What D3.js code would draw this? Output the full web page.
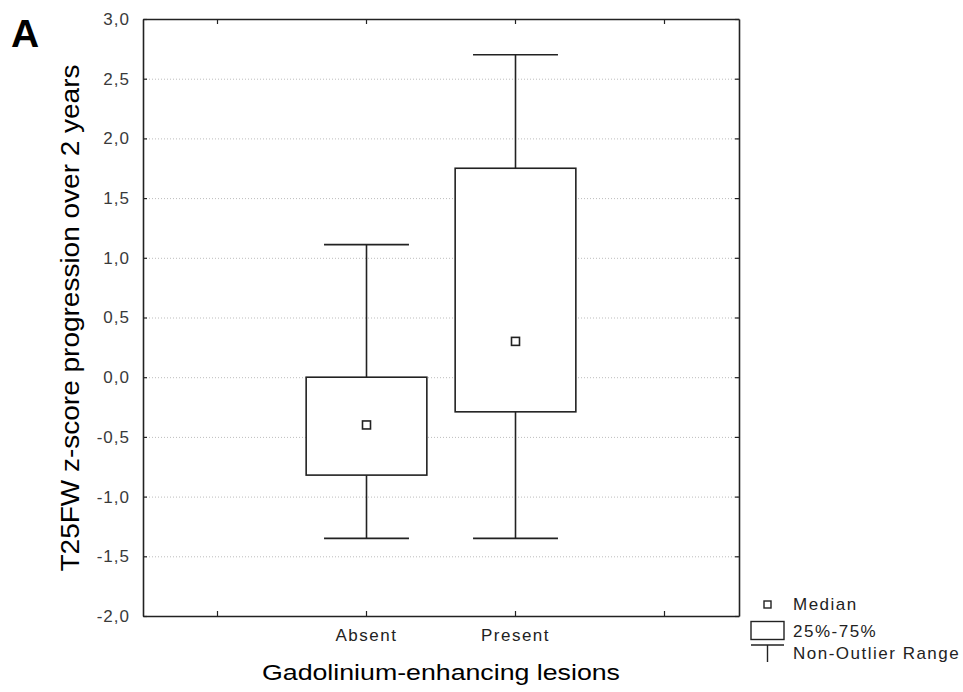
<!DOCTYPE html>
<html>
<head>
<meta charset="utf-8">
<script src="https://cdn.jsdelivr.net/npm/d3@7"></script>
<style>
  html, body { margin: 0; padding: 0; background: #fff; }
  svg { display: block; }
  text { font-family: "Liberation Sans", Arial, sans-serif; }
</style>
</head>
<body>
<svg id="chart" width="963" height="692"></svg>
<script>
// ---- data ----
const categories = ["", "Absent", "Present", ""];
const groups = ["Absent", "Present"];
const medians = [-0.40, 0.30];
const q1 = [-0.82, -0.29];
const q3 = [0.00, 1.75];
const whiskerLow = [-1.35, -1.35];
const whiskerHigh = [1.11, 2.70];
const yTicks = [-2.0, -1.5, -1.0, -0.5, 0.0, 0.5, 1.0, 1.5, 2.0, 2.5, 3.0];
const yTickLabels = ["-2,0", "-1,5", "-1,0", "-0,5", "0,0", "0,5", "1,0", "1,5", "2,0", "2,5", "3,0"];
const legendLabels = ["Median", "25%-75%", "Non-Outlier Range"];

// ---- layout ----
const svg = d3.select("#chart");
const m = { left: 143, right: 739, top: 19, bottom: 616 };
const ink = "#222";

const x = d3.scaleBand().domain(d3.range(categories.length)).range([m.left, m.right]);
const y = d3.scaleLinear().domain([-2, 3]).range([m.bottom, m.top]);

// gridlines
svg.append("g").selectAll("line")
  .data(yTicks.filter(t => t > -2 && t < 3))
  .join("line")
  .attr("x1", m.left).attr("x2", m.right)
  .attr("y1", d => y(d) + 0.5).attr("y2", d => y(d) + 0.5)
  .attr("stroke", "#bdbdbd").attr("stroke-width", 1)
  .attr("stroke-dasharray", "1,2");

// axes (ticks inside)
const yAxisL = d3.axisLeft(y).tickValues(yTicks).tickSizeInner(-4).tickSizeOuter(0)
  .tickFormat((d, i) => yTickLabels[i]).tickPadding(13);
const gL = svg.append("g").attr("transform", `translate(${m.left},0)`).call(yAxisL);
const gR = svg.append("g").attr("transform", `translate(${m.right},0)`)
  .call(d3.axisRight(y).tickValues(yTicks).tickSizeInner(-4).tickSizeOuter(0).tickFormat(""));
const xAxisB = d3.axisBottom(x).tickSizeInner(-5).tickSizeOuter(0)
  .tickFormat(i => categories[i]).tickPadding(13);
const gB = svg.append("g").attr("transform", `translate(0,${m.bottom})`).call(xAxisB);
const gT = svg.append("g").attr("transform", `translate(0,${m.top})`)
  .call(d3.axisTop(x).tickSizeInner(-5).tickSizeOuter(0).tickFormat(""));

[gL, gR, gB, gT].forEach(g => {
  g.select(".domain").attr("stroke", ink).attr("stroke-width", 1.6);
  g.selectAll(".tick line").attr("stroke", ink).attr("stroke-width", 1.2);
});
gL.selectAll(".tick text").attr("font-size", 17).attr("fill", "#3a3a3a")
  .attr("letter-spacing", "1px").attr("font-family", "Liberation Sans, Arial, sans-serif");
gB.selectAll(".tick text").attr("font-size", 17).attr("fill", "#222")
  .attr("letter-spacing", "1.5px").attr("font-family", "Liberation Sans, Arial, sans-serif");

// boxes
const idx = groups.map(g => categories.indexOf(g));
const boxW = x.bandwidth() * 0.81;
const capW = x.bandwidth() * 0.57;
const gBox = svg.append("g").attr("stroke", ink).attr("stroke-width", 1.6).attr("fill", "none");
groups.forEach((g, i) => {
  const cx = x(idx[i]) + x.bandwidth() / 2;
  gBox.append("line").attr("x1", cx).attr("x2", cx).attr("y1", y(q3[i])).attr("y2", y(whiskerHigh[i]));
  gBox.append("line").attr("x1", cx).attr("x2", cx).attr("y1", y(q1[i])).attr("y2", y(whiskerLow[i]));
  gBox.append("line").attr("x1", cx - capW / 2).attr("x2", cx + capW / 2)
    .attr("y1", y(whiskerHigh[i])).attr("y2", y(whiskerHigh[i]));
  gBox.append("line").attr("x1", cx - capW / 2).attr("x2", cx + capW / 2)
    .attr("y1", y(whiskerLow[i])).attr("y2", y(whiskerLow[i]));
  gBox.append("rect").attr("x", cx - boxW / 2).attr("width", boxW)
    .attr("y", y(q3[i])).attr("height", y(q1[i]) - y(q3[i])).attr("fill", "#fff");
  gBox.append("rect").attr("x", cx - 4).attr("y", y(medians[i]) - 4)
    .attr("width", 8).attr("height", 8).attr("fill", "#fff");
});

// axis titles
svg.append("text").attr("x", 441).attr("y", 680)
  .attr("text-anchor", "middle").attr("font-size", 21.5).attr("fill", "#000")
  .attr("textLength", 358).attr("lengthAdjust", "spacingAndGlyphs")
  .text("Gadolinium-enhancing lesions");
svg.append("text").attr("transform", `translate(79,318) rotate(-90)`)
  .attr("text-anchor", "middle").attr("font-size", 25).attr("fill", "#000")
  .attr("textLength", 507).attr("lengthAdjust", "spacingAndGlyphs")
  .text("T25FW z-score progression over 2 years");

// panel label
svg.append("text").attr("x", 11).attr("y", 47).attr("font-size", 39)
  .attr("font-weight", "bold").attr("fill", "#000").text("A");

// legend
const lg = svg.append("g").attr("stroke", ink).attr("stroke-width", 1.4).attr("fill", "none");
lg.append("rect").attr("x", 764).attr("y", 601).attr("width", 7).attr("height", 7);
lg.append("rect").attr("x", 751).attr("y", 621.5).attr("width", 33).attr("height", 18);
lg.append("line").attr("x1", 751).attr("x2", 784).attr("y1", 645).attr("y2", 645);
lg.append("line").attr("x1", 767.5).attr("x2", 767.5).attr("y1", 645).attr("y2", 662);
svg.append("g").selectAll("text").data(legendLabels).join("text")
  .attr("x", 793).attr("y", (d, i) => [610, 637, 659][i])
  .attr("font-size", 17).attr("fill", "#222").attr("letter-spacing", "1.5px")
  .text(d => d);
</script>
</body>
</html>
